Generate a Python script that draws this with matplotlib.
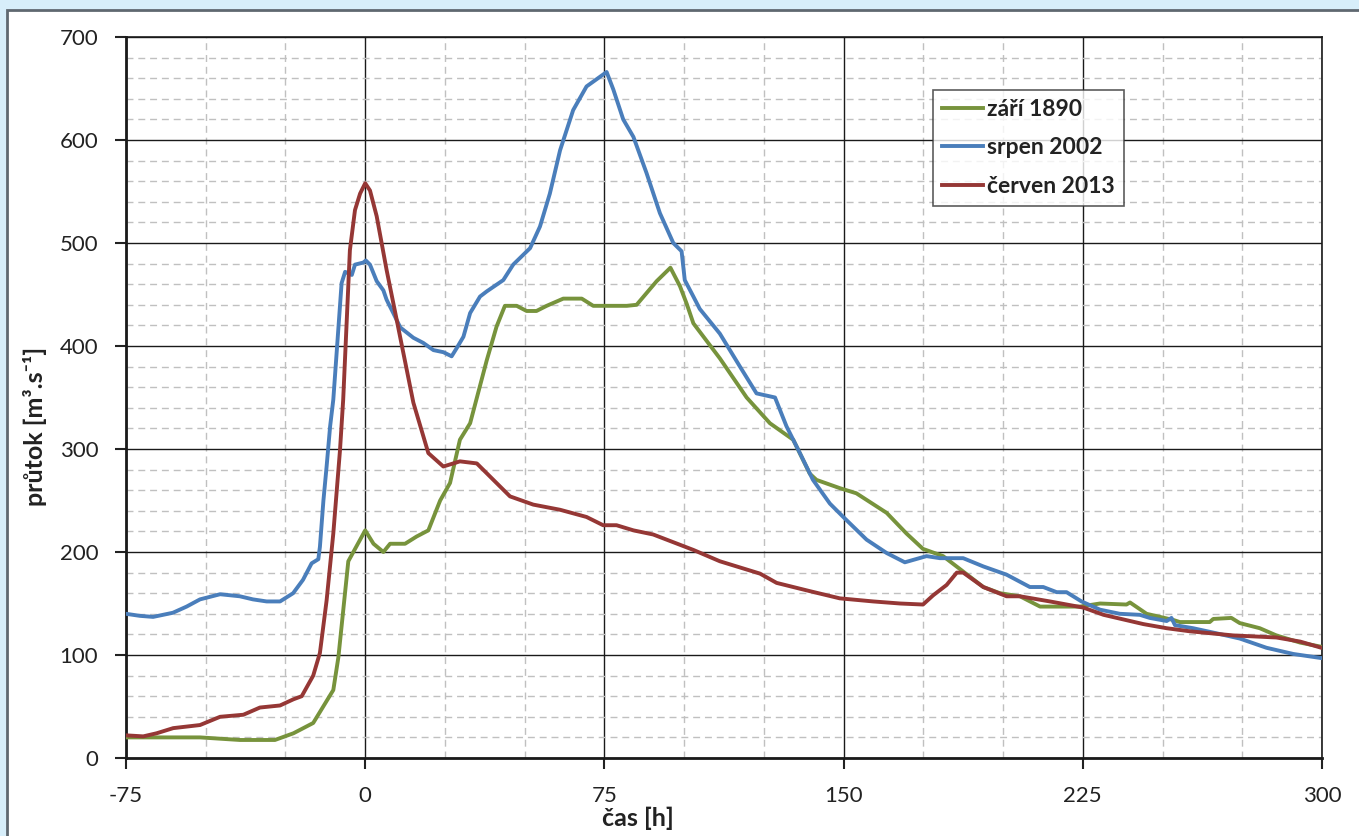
import matplotlib
matplotlib.use('Agg')
import matplotlib.pyplot as plt
from matplotlib.patches import Rectangle
from matplotlib.ticker import MultipleLocator

plt.rcParams['font.family'] = ['Lato', 'DejaVu Sans']
plt.rcParams['axes.unicode_minus'] = False

# hodnoty: čas [h] a průtok [m3/s]
x_1890 = [-75, -51.8, -39.3, -28.3, -22.5, -16.3, -10, -8.4, -5.3, 0, 2.6, 5.7, 7.8, 12.5,
          16.1, 19.8, 23.5, 26.6, 29.7, 32.9, 38.1, 41.2, 43.8, 47.5, 50.6, 53.7, 56.9, 62.1,
          67.9, 71.5, 82, 85.1, 91.4, 95.7, 98.7, 100.8, 102.9, 111.2, 119.6, 126.9, 134.2,
          139.4, 141.5, 148.8, 154, 163.5, 169.7, 174.9, 181.2, 187.5, 193.8, 199, 205.3,
          211.6, 224.1, 230.4, 238.7, 239.8, 245, 253.4, 255.4, 264.8, 265.9, 271.6, 274.2,
          280.5, 285.7, 293.2, 299.8]
q_1890 = [20, 20, 17.5, 17.5, 24, 34, 66, 98, 191, 221, 208, 200, 208, 208, 215, 221, 250,
          267, 309, 325, 386, 419, 439, 439, 434, 434, 439, 446, 446, 439, 439, 440, 463, 476,
          458, 441, 422, 388, 350, 325, 309, 276, 270, 262, 257, 238, 218, 203, 196, 181, 166,
          160, 157, 147, 147, 150, 149, 151, 140, 134, 132, 132, 135, 136, 131, 126, 119, 112,
          108]

x_2002 = [-75, -70.6, -66.5, -60.3, -56, -51.8, -45.5, -39.3, -35.2, -30.9, -26.7, -22.6,
          -19.5, -16.8, -14.7, -14.2, -13.1, -12.1, -11, -10, -7.4, -6.3, -4.2, -3.2, -0.6,
          0.2, 1.5, 3.6, 5.7, 6.7, 8.8, 11, 15.1, 18.2, 21.4, 24.5, 27.1, 28.7, 30.8, 32.9,
          36, 38.1, 43.3, 46.4, 51.7, 54.8, 57.9, 61.1, 65.2, 69.4, 75.7, 77.8, 80.9, 84.1,
          88.2, 92.4, 96.6, 99.2, 100.2, 102.9, 104.9, 111.2, 117.5, 122.7, 128.5, 132.1,
          136.3, 140.4, 145.7, 149.9, 157.2, 163.5, 169.2, 176, 180.2, 187.5, 193.8, 201.1,
          208.4, 212.6, 216.8, 219.9, 224.6, 230.4, 236.6, 242.9, 246, 251.3, 252.8, 253.9,
          259.6, 267, 274.2, 282.6, 291, 299.8]
q_2002 = [140, 138, 137, 141, 147, 154, 159, 157, 154, 152, 152, 160, 173, 189, 193, 205,
          250, 283, 322, 348, 461, 472, 469, 479, 481, 483, 479, 463, 454, 445, 432, 418, 408,
          403, 396, 394, 390, 398, 409, 432, 448, 453, 464, 479, 495, 516, 548, 590, 629, 652,
          666, 649, 620, 603, 568, 529, 500, 492, 464, 448, 436, 412, 380, 354, 350, 322, 296,
          270, 247, 234, 212, 199, 190, 196, 194, 194, 186, 178, 166, 166, 161, 161, 152, 144,
          140, 139, 136, 133, 136, 129, 126, 121, 116, 107, 101, 97]

x_2013 = [-75, -69.6, -65.4, -60.2, -51.8, -45.5, -38.2, -33, -26.7, -22.5, -19.9, -16.3,
          -14.2, -12.1, -10, -7.9, -6.9, -4.8, -3.2, -1.6, 0, 1.5, 3.6, 6.7, 9.9, 15.1, 19.8,
          24.5, 29.7, 35, 40.2, 45.4, 52.7, 61.1, 69.4, 74.6, 78.8, 84.1, 90.3, 102.9, 111.2,
          123.8, 129, 139.4, 148.8, 159.3, 167.7, 174.9, 178.1, 182.3, 185.5, 187.5, 193.8,
          201.1, 205.3, 214.7, 225.2, 231.5, 244, 251.3, 258.6, 272.2, 285.7, 293.2, 299.8]
q_2013 = [22, 21, 24, 29, 32, 40, 42, 49, 51, 57, 60, 80, 102, 153, 218, 299, 348, 493, 532,
          548, 558, 551, 526, 474, 425, 345, 296, 283, 288, 286, 270, 254, 246, 241, 234, 226,
          226, 221, 217, 202, 191, 179, 170, 162, 155, 152, 150, 149, 158, 168, 180, 180, 166,
          157, 157, 152, 146, 139, 130, 126, 123, 119, 117, 113, 107]

labels = ['září 1890', 'srpen 2002', 'červen 2013']
colors = ['#77933c', '#4a7ebb', '#953735']

fig = plt.figure(figsize=(13.59, 8.36), dpi=100, facecolor='#d7eefa')
# bílý panel s šedým okrajem
fig.patches.append(Rectangle((7 / 1359, -0.05), 1.1, (836 - 10) / 836 + 0.05,
                             transform=fig.transFigure, facecolor='white',
                             edgecolor='#5f6870', linewidth=2, zorder=-10))

ax = fig.add_axes([126 / 1359, 78 / 836, 1196 / 1359, 721 / 836])
ax.set_zorder(1)
ax.set_facecolor('white')

ax.plot(x_1890, q_1890, color=colors[0], lw=2.8, label=labels[0], zorder=3)
ax.plot(x_2002, q_2002, color=colors[1], lw=2.8, label=labels[1], zorder=3)
ax.plot(x_2013, q_2013, color=colors[2], lw=2.8, label=labels[2], zorder=3)

ax.set_xlim(-75, 300)
ax.set_ylim(0, 700)
ax.xaxis.set_major_locator(MultipleLocator(75))
ax.xaxis.set_minor_locator(MultipleLocator(25))
ax.yaxis.set_major_locator(MultipleLocator(100))
ax.yaxis.set_minor_locator(MultipleLocator(20))

ax.grid(which='minor', color='#c0c0c0', linestyle=(0, (5, 3.5)), linewidth=1)
ax.grid(which='major', color='#1a1a1a', linestyle='-', linewidth=1)
ax.set_axisbelow(True)

ax.tick_params(which='major', direction='out', length=8, width=1.5, labelsize=16,
               colors='#222222')
ax.tick_params(axis='y', pad=12)
ax.tick_params(axis='x', pad=12)
ax.tick_params(which='minor', length=0)
for side in ['left', 'bottom']:
    ax.spines[side].set_linewidth(2)
    ax.spines[side].set_color('#1a1a1a')
for side in ['top', 'right']:
    ax.spines[side].set_linewidth(1.2)
    ax.spines[side].set_color('#1a1a1a')

ax.set_xlabel('čas [h]', fontsize=18, fontweight='bold', color='#222222')
ax.xaxis.set_label_coords(0.428, -0.083)
ax.xaxis.label.set_va('center')
ax.set_ylabel('průtok [m³.s⁻¹]', fontsize=18, fontweight='bold', color='#222222')
ax.yaxis.set_label_coords(-0.076, 0.46)
ax.yaxis.label.set_va('center')

leg = ax.legend(loc='upper left', bbox_to_anchor=(0.6747, 0.9265), frameon=True,
                fancybox=False, edgecolor='#333333', handlelength=1.8,
                handletextpad=0.15, borderpad=0.4, labelspacing=0.75,
                borderaxespad=0, prop={'weight': 'bold', 'size': 16.5})
leg.get_frame().set_linewidth(1.2)
for t in leg.get_texts():
    t.set_color('#222222')

fig.savefig('out.png', dpi=100, facecolor=fig.get_facecolor())
